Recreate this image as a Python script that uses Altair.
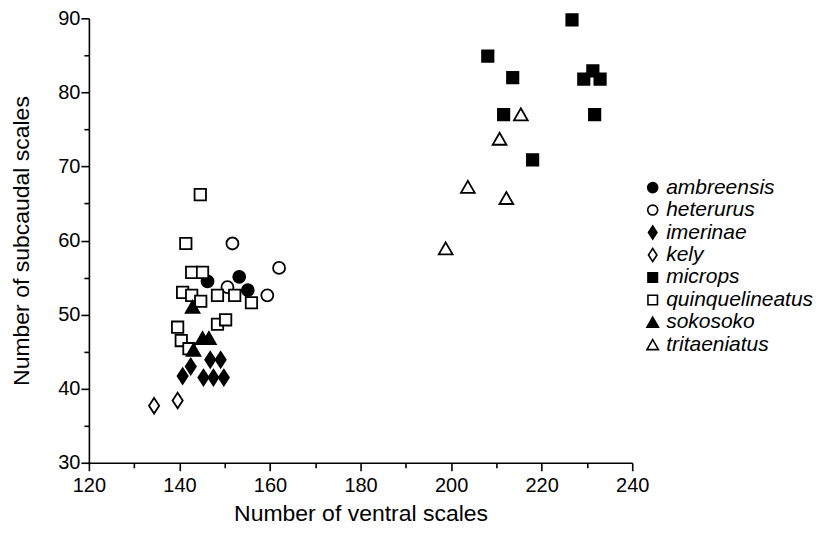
import altair as alt
import pandas as pd

species = ["ambreensis", "heterurus", "imerinae", "kely", "microps",
           "quinquelineatus", "sokosoko", "tritaeniatus"]

# (ventral, subcaudal) per species
ambreensis_x = [146.2, 153.2, 155.1]
ambreensis_y = [54.5, 55.1, 53.3]
heterurus_x = [151.7, 162.0, 150.6, 159.4]
heterurus_y = [59.6, 56.3, 53.7, 52.6]
imerinae_x = [146.8, 149.1, 142.5, 140.7, 145.3, 147.5, 149.8]
imerinae_y = [43.9, 43.9, 43.0, 41.7, 41.5, 41.5, 41.5]
kely_x = [134.4, 139.6]
kely_y = [37.7, 38.4]
microps_x = [226.7, 208.1, 213.6, 229.3, 231.3, 232.9, 211.6, 231.7, 218.0]
microps_y = [89.8, 84.9, 82.0, 81.8, 82.9, 81.8, 77.0, 77.0, 70.9]
quinquelineatus_x = [144.6, 141.4, 142.7, 145.1, 140.7, 142.7, 144.7, 148.4,
                     152.2, 155.9, 148.4, 150.2, 139.6, 140.4, 142.1]
quinquelineatus_y = [66.2, 59.6, 55.7, 55.7, 53.0, 52.6, 51.8, 52.6,
                     52.6, 51.6, 48.7, 49.3, 48.3, 46.5, 45.4]
sokosoko_x = [142.9, 145.1, 146.5, 143.1]
sokosoko_y = [51.0, 46.8, 46.8, 45.2]
tritaeniatus_x = [215.4, 210.7, 203.7, 212.2, 198.8]
tritaeniatus_y = [77.0, 73.7, 67.2, 65.7, 58.9]

series = {
    "ambreensis": (ambreensis_x, ambreensis_y),
    "heterurus": (heterurus_x, heterurus_y),
    "imerinae": (imerinae_x, imerinae_y),
    "kely": (kely_x, kely_y),
    "microps": (microps_x, microps_y),
    "quinquelineatus": (quinquelineatus_x, quinquelineatus_y),
    "sokosoko": (sokosoko_x, sokosoko_y),
    "tritaeniatus": (tritaeniatus_x, tritaeniatus_y),
}

rows = []
for sp, (xs, ys) in series.items():
    for xv, yv in zip(xs, ys):
        rows.append({"species": sp, "ventral": xv, "subcaudal": yv})
df = pd.DataFrame(rows)

x_ticks = list(range(120, 241, 10))
y_ticks = list(range(30, 91, 5))

SQUARE = "M-0.95,-0.95H0.95V0.95H-0.95Z"
DIAMOND = "M0,-1.3L0.85,0L0,1.3L-0.85,0Z"
TRIANGLE = "M0,-1.05L1.15,0.95L-1.15,0.95Z"
shapes = ["circle", "circle", DIAMOND, DIAMOND, SQUARE, SQUARE, TRIANGLE, TRIANGLE]
fills = ["black", "white", "black", "white", "black", "white", "black", "white"]
strokes = ["black"] * 8

FONT = "Liberation Sans"


def make_legend():
    return alt.Legend(title=None, orient="none", legendX=554, legendY=159,
                      labelFontSize=21, labelFontStyle="italic",
                      symbolSize=100, symbolStrokeWidth=1.6,
                      labelOffset=3, rowPadding=0.5, padding=0)


chart = alt.Chart(df).mark_point(
    filled=True, opacity=1, strokeWidth=1.8, size=144
).encode(
    x=alt.X("ventral:Q",
            scale=alt.Scale(domain=[120, 240], nice=False, zero=False),
            axis=alt.Axis(values=x_ticks, title="Number of ventral scales",
                          labelExpr="datum.value % 20 === 0 ? datum.label : ''",
                          tickSize={"condition": {"test": "datum.value % 20 === 0", "value": 8}, "value": 5},
                          labelFlush=False, labelOverlap=False, grid=False,
                          labelFontSize=20, titleFontSize=23, labelPadding=5,
                          titlePadding=6.5)),
    y=alt.Y("subcaudal:Q",
            scale=alt.Scale(domain=[30, 90], nice=False, zero=False),
            axis=alt.Axis(values=y_ticks, title="Number of subcaudal scales",
                          labelExpr="datum.value % 10 === 0 ? datum.label : ''",
                          tickSize={"condition": {"test": "datum.value % 10 === 0", "value": 8}, "value": 5},
                          labelFlush=False, labelOverlap=False, grid=False,
                          labelFontSize=20, titleFontSize=23, labelPadding=1,
                          titlePadding=24)),
    shape=alt.Shape("species:N", scale=alt.Scale(domain=species, range=shapes),
                    legend=make_legend()),
    fill=alt.Fill("species:N", scale=alt.Scale(domain=species, range=fills),
                  legend=make_legend()),
    stroke=alt.Stroke("species:N", scale=alt.Scale(domain=species, range=strokes),
                      legend=make_legend()),
).properties(
    width=544, height=445,
    padding={"left": 2, "top": 0, "right": 0, "bottom": 0},
).configure_view(
    stroke=None
).configure_axis(
    domainColor="black", domainWidth=1.6, tickColor="black", tickWidth=1.6,
    labelColor="black", titleColor="black", labelFont=FONT, titleFont=FONT,
    titleFontWeight="normal"
).configure_legend(
    labelFont=FONT, labelColor="black"
)

chart.save("out.html", embed_options={"renderer": "svg", "actions": False})
